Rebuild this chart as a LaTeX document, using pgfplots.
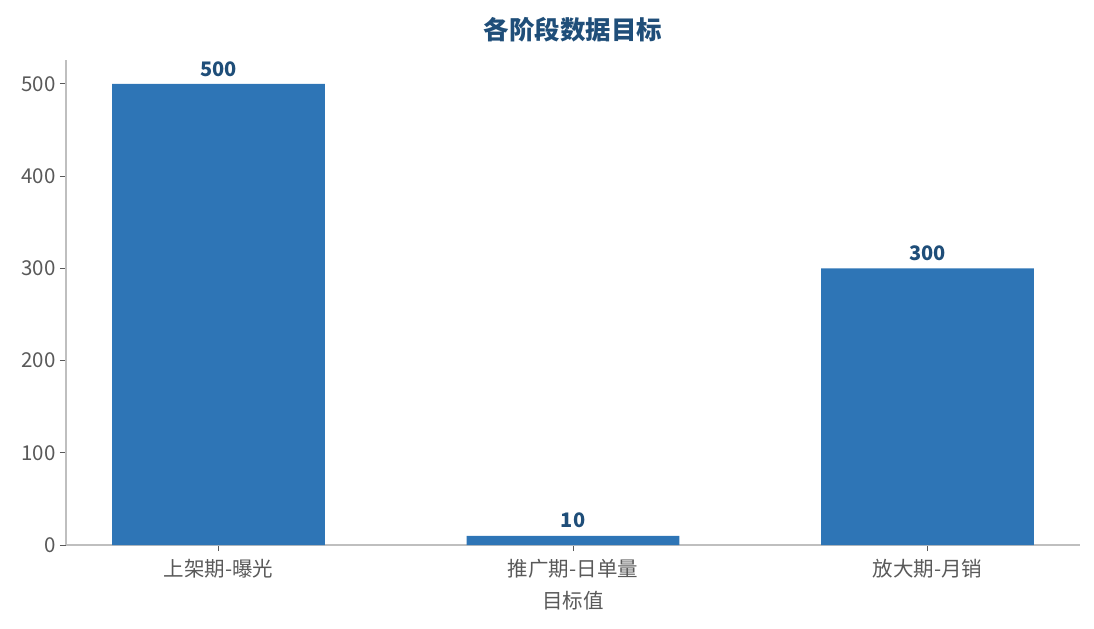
\documentclass[border=0pt]{standalone}
\usepackage{pgfplots}
\pgfplotsset{compat=1.18}
\usepackage{fontspec}
\setmainfont{Noto Sans CJK SC}
\definecolor{barblue}{HTML}{2E75B6}
\definecolor{lblblue}{HTML}{1F4E79}
\definecolor{axgray}{HTML}{BFBFBF}
\definecolor{txtgray}{HTML}{595959}
\begin{document}
\begin{tikzpicture}
\begin{axis}[
  at={(0,0)}, anchor=south west,
  scale only axis,
  width=1014bp, height=485bp,
  xmin=-0.43, xmax=2.43,
  ymin=0, ymax=526,
  axis x line*=bottom, axis y line*=left,
  axis line style={axgray, line width=1.2bp},
  xtick=data,
  xticklabels={上架期-曝光,推广期-日单量,放大期-月销},
  ytick={0,100,200,300,400,500},
  tick style={txtgray, line width=1bp},
  major tick length=6bp,
  tick align=outside,
  /pgf/number format/assume math mode=true,
  ticklabel style={font=\fontsize{20.5bp}{24bp}\selectfont, text=txtgray},
  xticklabel style={yshift=-5bp},
  yticklabel style={xshift=-1bp},
  xlabel={目标值},
  xlabel style={font=\fontsize{20.5bp}{24bp}\selectfont, text=txtgray, yshift=-6bp},
  title={各阶段数据目标},
  title style={font=\fontsize{25.5bp}{30bp}\selectfont\bfseries, text=lblblue, yshift=8bp},
  ybar, bar width=0.6,
  nodes near coords,
  nodes near coords style={font=\fontsize{20bp}{23bp}\selectfont\bfseries, text=lblblue, yshift=4bp},
]
\addplot[fill=barblue, draw=none] coordinates {(0,500) (1,10) (2,300)};
\end{axis}
\pgfresetboundingbox
\useasboundingbox (-66bp,-84bp) rectangle (1028bp,545bp);
\end{tikzpicture}
\end{document}
